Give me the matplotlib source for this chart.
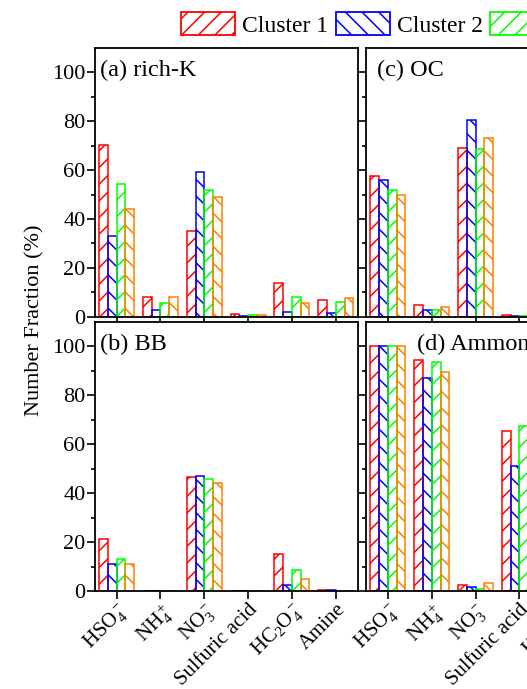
import matplotlib
matplotlib.use("Agg")
import matplotlib.pyplot as plt
import numpy as np
from matplotlib.patches import Patch

plt.rcParams['font.family'] = ['Liberation Serif', 'DejaVu Serif']
plt.rcParams['mathtext.fontset'] = 'custom'
plt.rcParams['mathtext.rm'] = 'Liberation Serif'
plt.rcParams['mathtext.it'] = 'Liberation Serif:italic'
plt.rcParams['hatch.linewidth'] = 1.1

categories = [r'HSO$_4^-$', r'NH$_4^+$', r'NO$_3^-$', 'Sulfuric acid', r'HC$_2$O$_4^-$', 'Amine']
clusters = ['Cluster 1', 'Cluster 2', 'Cluster 3', 'Cluster 4']
colors = ['#FF0000', '#0000FF', '#00FF00', '#FF8000']
hatches = ['//', '\\\\', '//', '\\\\']

# values per panel: rows = clusters, columns = categories
rich_k = [[70.3, 7.9, 34.9, 1.1, 13.6, 6.8],
          [33.2, 2.7, 59.2, 0.1, 2.0, 1.6],
          [54.4, 5.7, 51.7, 0.8, 8.2, 5.9],
          [44.0, 7.9, 49.2, 0.5, 5.7, 7.5]]
bb = [[21.1, 0.1, 46.7, 0.1, 15.3, 0.3],
      [11.2, 0.0, 46.9, 0.0, 2.3, 0.3],
      [13.2, 0.1, 46.0, 0.1, 8.5, 0.1],
      [11.2, 0.0, 44.1, 0.0, 5.0, 0.0]]
oc = [[57.6, 4.8, 69.2, 0.7, 3.0, 1.0],
      [55.9, 2.9, 80.4, 0.3, 1.0, 0.5],
      [52.0, 2.9, 68.5, 0.3, 2.0, 1.0],
      [50.0, 4.0, 73.3, 0.2, 2.0, 1.0]]
ammonium = [[100.0, 94.3, 2.6, 65.3, 5.0, 10.0],
            [100.0, 87.2, 1.5, 51.2, 3.0, 8.0],
            [100.0, 93.6, 0.7, 67.4, 4.0, 10.0],
            [100.0, 89.4, 3.4, 60.0, 4.0, 9.0]]

panels = [('(a) rich-K', rich_k), ('(b) BB', bb), ('(c) OC', oc), ('(d) Ammonium', ammonium)]
label_x = [0.022, 0.022, 0.04, 0.195]

W, H = 527, 689
fig = plt.figure(figsize=(W / 100, H / 100), dpi=100)

def frac_rect(x0, y_top, y_bot, w):
    return [x0 / W, 1 - y_bot / H, w / W, (y_bot - y_top) / H]

aw = 263
rects = [frac_rect(94.7, 48, 316.7, aw), frac_rect(94.7, 322, 591, aw),
         frac_rect(366, 48, 316.7, aw), frac_rect(366, 322, 591, aw)]

x = np.arange(len(categories))
bw = 0.2
offsets = [-0.3, -0.1, 0.1, 0.3]

for i, ((title, data), rect) in enumerate(zip(panels, rects)):
    ax = fig.add_axes(rect)
    for k in range(4):
        ax.bar(x + offsets[k], data[k], bw, facecolor='none', edgecolor=colors[k],
               hatch=hatches[k], linewidth=1.1)
    ax.set_xlim(-0.5, 5.5)
    ax.set_ylim(0, 110)
    ax.set_yticks([0, 20, 40, 60, 80, 100])
    ax.set_yticks(np.arange(10, 110, 20), minor=True)
    ax.set_xticks(x)
    for s in ax.spines.values():
        s.set_linewidth(1.3)
    ax.tick_params(axis='both', which='major', direction='out', length=5.5, width=1.2,
                   labelsize=16, pad=1)
    ax.tick_params(axis='y', which='minor', direction='out', length=3, width=1.2)
    if i in (0, 1):
        ax.set_yticklabels(['0', '20', '40', '60', '80', '100'])
    else:
        ax.set_yticklabels([])
    if i in (1, 3):
        ax.set_xticklabels(categories, rotation=45, ha='right', va='top',
                           rotation_mode='anchor', fontsize=15)
    else:
        ax.set_xticklabels([])
    ax.text(label_x[i], 0.955, title, transform=ax.transAxes, fontsize=17.5,
            ha='left', va='top')

fig.text(35 / W, 1 - 320 / H, 'Number Fraction (%)', rotation=90, fontsize=16,
         ha='center', va='center')

handles = [Patch(facecolor='none', edgecolor=c, hatch=h, linewidth=1.3, label=l)
           for c, h, l in zip(colors, hatches, clusters)]
fig.legend(handles=handles, loc='upper left', bbox_to_anchor=(181 / W, 1 - 12 / H),
           ncol=4, frameon=False, fontsize=17, handlelength=2.3, handleheight=1.15,
           handletextpad=0.3, columnspacing=0.3, borderpad=0, borderaxespad=0)

fig.savefig('out.png', dpi=100)
